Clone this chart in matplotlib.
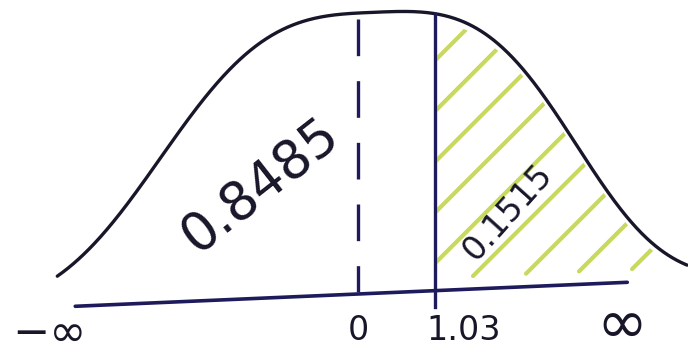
import numpy as np
import matplotlib.pyplot as plt
from matplotlib.patches import Polygon

# standard normal, upper tail beyond z = 1.03
z_cut = 1.03
area_below = 0.8485
area_above = 0.1515
tick_values = [0, z_cut]
tick_labels = ["0", "1.03"]
inf_labels = ["\u2212\u221e", "\u221e"]

ink = "#18172a"
navy = "#1e1b5c"
hatch_col = "#c3d44e"

px = 74.8  # pixels per z unit


def baseline(z):
    # the sketched axis line rises a little to the right
    return 66 + 3.25 * z


def bell(z):
    # flat-topped sketch of the density, peak scaled to 1
    d = z - 0.16
    width = np.where(d < 0, 3.21, 3.07)
    power = np.where(d < 0, 3.0, 3.36)
    return np.exp(-(np.abs(d) / width) ** power)


height = 281


def curve(z):
    return baseline(z) + height * bell(z)


fig = plt.figure(figsize=(6.88, 3.6), dpi=100)
ax = fig.add_axes([0, 0, 1, 1])
ax.set_xlim(-358 / px, 330 / px)
ax.set_ylim(0, 360)
ax.axis("off")

z = np.linspace(-4.02, 4.40, 600)
ax.plot(z, curve(z), color=ink, lw=2.4, solid_capstyle="round")

# horizontal axis
za = np.array([-3.78, 3.60])
ax.plot(za, baseline(za), color=navy, lw=2.6, solid_capstyle="round")

# hatched upper tail, strokes stop a little short of the outline
zt = np.linspace(z_cut + 0.03, 4.40, 300)
poly = np.vstack([np.column_stack([zt, curve(zt) - 7]),
                  np.column_stack([zt[::-1], baseline(zt[::-1]) + 7])])
tail = Polygon(poly, closed=True, fill=False, lw=0)
ax.add_patch(tail)
for z0 in np.arange(-2.005, 3.8, 53 / px):
    hz = np.array([z0, z0 + 4.0])
    hy = baseline(z0) + 13 + px * (hz - z0)
    ln, = ax.plot(hz, hy, color=hatch_col, lw=3.0, alpha=0.9,
                  solid_capstyle="round")
    ln.set_clip_path(tail)

# dashed line at the mean, drawn top-down
ax.plot([tick_values[0], tick_values[0]],
        [curve(0) - 6, baseline(0) + 2],
        color=navy, lw=2.4, dashes=(11, 7.5))
# solid line at z = 1.03, running through the axis
ax.plot([z_cut, z_cut], [baseline(z_cut) - 16, curve(z_cut)],
        color=navy, lw=2.4)

# tick labels
for val, lab in zip(tick_values, tick_labels):
    ax.text(val + (0.38 if lab != "0" else 0), 30, lab, fontsize=24,
            color=ink, ha="center", va="center")
ax.text(-4.12, 27, inf_labels[0], fontsize=32, color=ink,
        ha="center", va="center")
ax.text(3.53, 33, inf_labels[1], fontsize=44, color=ink,
        ha="center", va="center")

# areas
ax.text(-1.31, 175, f"{area_below:.4f}", fontsize=38, color=ink,
        rotation=38, ha="center", va="center", rotation_mode="anchor")
ax.text(2.00, 148, f"{area_above:.4f}", fontsize=24, color=ink,
        rotation=48, ha="center", va="center", rotation_mode="anchor")

fig.savefig("out.png", dpi=100, facecolor="white")
